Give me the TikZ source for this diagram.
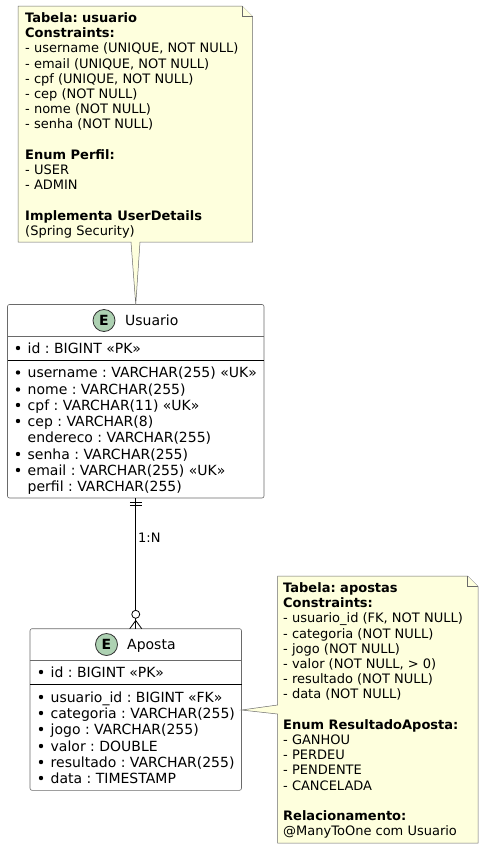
\documentclass[tikz,border=0pt]{standalone}
\usepackage{fontspec}
\setmainfont{DejaVu Sans}
\frenchspacing
\definecolor{notefill}{HTML}{FEFFDD}
\definecolor{spotfill}{HTML}{ADD1B2}
\definecolor{lineedge}{HTML}{6A6A6A}
\tikzset{
	entitybox/.style={draw=lineedge,fill=white,line width=0.6pt,rounded corners=2pt,inner sep=0pt,outer sep=0pt,anchor=north west},
	spot/.style={circle,draw=black!80,fill=spotfill,line width=0.8pt,minimum size=22pt,inner sep=0pt,font=\fontsize{14}{16}\selectfont\bfseries},
	titletext/.style={anchor=base west,inner sep=0pt,font=\fontsize{14}{16}\selectfont},
	fieldtext/.style={anchor=base west,inner sep=0pt,font=\fontsize{14}{16}\selectfont},
	notetext/.style={anchor=north west,inner sep=0pt,align=left,font=\fontsize{13}{15.2}\selectfont},
	noteshape/.style={draw=lineedge,fill=notefill,line width=0.5pt},
	rel/.style={draw=black,line width=0.8pt}
}
\begin{document}
\begin{tikzpicture}[x=1pt,y=-1pt]
\useasboundingbox (0,0) rectangle (483,849);

%----------------------------
% Usuario
%----------------------------
\node[entitybox,minimum width=256.5pt,minimum height=193.5pt] (usuario) at (7.5,304.5) {};
\draw[lineedge,line width=0.6pt] (7.5,336.7) -- (264,336.7);
\draw[black,line width=0.8pt] (7.5,360.7) -- (264,360.7);
\node[spot] (usuariospot) at (104,320.5) {E};
\node[titletext] (usuariotitle) at (125,325) {Usuario};

% Mandatory columns
\foreach \ypos/\txt in {353/id : BIGINT «PK»,377.5/username : VARCHAR(255) «UK»,394.5/nome : VARCHAR(255),410/cpf : VARCHAR(11) «UK»,426/cep : VARCHAR(8),459/senha : VARCHAR(255),475/email : VARCHAR(255) «UK»}{
	\fill (18,\ypos-5) circle (2.2);
	\node[fieldtext] (usuariofield\ypos) at (27.5,\ypos) {\txt};
}
% Optional columns
\node[fieldtext] (usuarioendereco) at (27.5,442) {endereco : VARCHAR(255)};
\node[fieldtext] (usuarioperfil) at (27.5,491) {perfil : VARCHAR(255)};

%----------------------------
% Aposta
%----------------------------
\node[entitybox,minimum width=211.5pt,minimum height=161.6pt] (aposta) at (30,628.7) {};
\draw[lineedge,line width=0.6pt] (30,660.3) -- (241.5,660.3);
\draw[black,line width=0.8pt] (30,684.3) -- (241.5,684.3);
\node[spot] (apostaspot) at (106.5,644.5) {E};
\node[titletext] (apostatitle) at (127,649) {Aposta};

\foreach \ypos/\txt in {677/id : BIGINT «PK»,702/usuario\_id : BIGINT «FK»,718/categoria : VARCHAR(255),734/jogo : VARCHAR(255),751/valor : DOUBLE,767/resultado : VARCHAR(255),783/data : TIMESTAMP}{
	\fill (41,\ypos-5) circle (2.2);
	\node[fieldtext] (apostafield\ypos) at (50.5,\ypos) {\txt};
}

%----------------------------
% Relation 1:N
%----------------------------
\coordinate (circletop) at (135.75,610.3);
\coordinate (circlebottom) at (135.75,618.3);
\coordinate (crowtip) at (135.75,620.5);
\draw[rel] (usuario.south) -- (circletop);
\draw[rel] (129.75,502.3) -- (141.75,502.3);
\draw[rel] (129.75,505.6) -- (141.75,505.6);
\draw[rel] (135.75,614.3) circle (4);
\draw[rel] (circlebottom) -- (aposta.north);
\draw[rel] (crowtip) -- (129.75,628.7);
\draw[rel] (crowtip) -- (141.75,628.7);
\node[anchor=base west,inner sep=0pt,font=\fontsize{13}{15.2}\selectfont] (rellabel) at (138,542) {1:N};

%----------------------------
% Notes
%----------------------------
\draw[noteshape] (18,6) -- (242,6) -- (252.5,16.5) -- (252.5,242) -- (140,242) -- (usuario.north) -- (131,242) -- (18,242) -- cycle;
\draw[noteshape] (242,6) -- (242,16.5) -- (252.5,16.5);
\node[notetext] (usuarionote) at (25,12.5) {\textbf{Tabela: usuario}\\
\textbf{Constraints:}\\
- username (UNIQUE, NOT NULL)\\
- email (UNIQUE, NOT NULL)\\
- cpf (UNIQUE, NOT NULL)\\
- cep (NOT NULL)\\
- nome (NOT NULL)\\
- senha (NOT NULL)\\
\mbox{}\\
\textbf{Enum Perfil:}\\
- USER\\
- ADMIN\\
\mbox{}\\
\textbf{Implementa UserDetails}\\
(Spring Security)};

\draw[noteshape] (277.5,576) -- (467.5,576) -- (478,586.5) -- (478,843) -- (277.5,843) -- (277.5,714) -- (aposta.east |- 0,710) -- (277.5,705) -- cycle;
\draw[noteshape] (467.5,576) -- (467.5,586.5) -- (478,586.5);
\node[notetext] (apostanote) at (283,582.5) {\textbf{Tabela: apostas}\\
\textbf{Constraints:}\\
- usuario\_id (FK, NOT NULL)\\
- categoria (NOT NULL)\\
- jogo (NOT NULL)\\
- valor (NOT NULL, > 0)\\
- resultado (NOT NULL)\\
- data (NOT NULL)\\
\mbox{}\\
\textbf{Enum ResultadoAposta:}\\
- GANHOU\\
- PERDEU\\
- PENDENTE\\
- CANCELADA\\
\mbox{}\\
\textbf{Relacionamento:}\\
@ManyToOne com Usuario};
\end{tikzpicture}
\end{document}
